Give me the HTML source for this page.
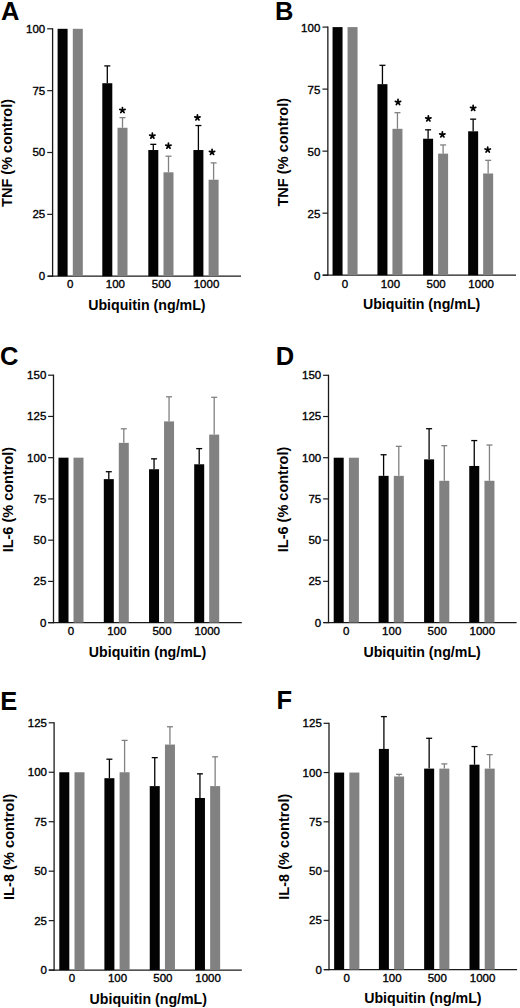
<!DOCTYPE html>
<html><head><meta charset="utf-8"><style>
html,body{margin:0;padding:0;background:#fff;}
svg{display:block;}
text{font-family:"Liberation Sans", sans-serif;fill:#000;}
.tk{stroke:#000;stroke-width:0.35px;}
</style></head><body>
<svg width="520" height="1008" viewBox="0 0 520 1008">
<rect width="520" height="1008" fill="#fff"/>
<text x="1.0" y="19.9" font-size="25.5" font-weight="bold">A</text>
<line x1="52.6" y1="28.20" x2="52.6" y2="276.80" stroke="#1a1a1a" stroke-width="1.3"/>
<line x1="48" y1="276.2" x2="241" y2="276.2" stroke="#1a1a1a" stroke-width="1.3"/>
<line x1="47.20" y1="276.20" x2="52.6" y2="276.20" stroke="#1a1a1a" stroke-width="1.2"/>
<text x="45.2" y="280.17" font-size="11.5" text-anchor="end" class="tk">0</text>
<line x1="47.20" y1="214.35" x2="52.6" y2="214.35" stroke="#1a1a1a" stroke-width="1.2"/>
<text x="45.2" y="218.32" font-size="11.5" text-anchor="end" class="tk">25</text>
<line x1="47.20" y1="152.50" x2="52.6" y2="152.50" stroke="#1a1a1a" stroke-width="1.2"/>
<text x="45.2" y="156.47" font-size="11.5" text-anchor="end" class="tk">50</text>
<line x1="47.20" y1="90.65" x2="52.6" y2="90.65" stroke="#1a1a1a" stroke-width="1.2"/>
<text x="45.2" y="94.62" font-size="11.5" text-anchor="end" class="tk">75</text>
<line x1="47.20" y1="28.80" x2="52.6" y2="28.80" stroke="#1a1a1a" stroke-width="1.2"/>
<text x="45.2" y="32.77" font-size="11.5" text-anchor="end" class="tk">100</text>
<rect x="57.60" y="28.80" width="10" height="247.40" fill="#030303"/>
<rect x="72.80" y="28.80" width="10" height="247.40" fill="#818181"/>
<text x="70.20" y="288.2" font-size="11.5" text-anchor="middle" class="tk">0</text>
<rect x="102.30" y="83.23" width="10" height="192.97" fill="#030303"/>
<line x1="107.30" y1="65.91" x2="107.30" y2="83.23" stroke="#030303" stroke-width="1.3"/>
<line x1="104.30" y1="65.91" x2="110.30" y2="65.91" stroke="#030303" stroke-width="1.3"/>
<rect x="117.50" y="127.76" width="10" height="148.44" fill="#818181"/>
<line x1="122.50" y1="117.62" x2="122.50" y2="127.76" stroke="#818181" stroke-width="1.3"/>
<line x1="119.50" y1="117.62" x2="125.50" y2="117.62" stroke="#818181" stroke-width="1.3"/>
<path d="M122.45,110.26L122.45,107.51M122.45,110.26L125.07,109.41M122.45,110.26L124.07,112.49M122.45,110.26L120.83,112.49M122.45,110.26L119.83,109.41" stroke="#000" stroke-width="1.75" stroke-linecap="round" fill="none"/>
<text x="115.40" y="288.2" font-size="11.5" text-anchor="middle" class="tk">100</text>
<rect x="148.30" y="150.03" width="10" height="126.17" fill="#030303"/>
<line x1="153.30" y1="144.34" x2="153.30" y2="150.03" stroke="#030303" stroke-width="1.3"/>
<line x1="150.30" y1="144.34" x2="156.30" y2="144.34" stroke="#030303" stroke-width="1.3"/>
<path d="M152.35,135.91L152.35,133.16M152.35,135.91L154.97,135.06M152.35,135.91L153.97,138.14M152.35,135.91L150.73,138.14M152.35,135.91L149.73,135.06" stroke="#000" stroke-width="1.75" stroke-linecap="round" fill="none"/>
<rect x="163.50" y="172.29" width="10" height="103.91" fill="#818181"/>
<line x1="168.50" y1="156.21" x2="168.50" y2="172.29" stroke="#818181" stroke-width="1.3"/>
<line x1="165.50" y1="156.21" x2="171.50" y2="156.21" stroke="#818181" stroke-width="1.3"/>
<path d="M168.43,145.96L168.43,143.21M168.43,145.96L171.05,145.11M168.43,145.96L170.05,148.19M168.43,145.96L166.81,148.19M168.43,145.96L165.81,145.11" stroke="#000" stroke-width="1.75" stroke-linecap="round" fill="none"/>
<text x="161.40" y="288.2" font-size="11.5" text-anchor="middle" class="tk">500</text>
<rect x="193.40" y="150.03" width="10" height="126.17" fill="#030303"/>
<line x1="198.40" y1="125.53" x2="198.40" y2="150.03" stroke="#030303" stroke-width="1.3"/>
<line x1="195.40" y1="125.53" x2="201.40" y2="125.53" stroke="#030303" stroke-width="1.3"/>
<path d="M197.43,117.66L197.43,114.91M197.43,117.66L200.05,116.81M197.43,117.66L199.05,119.89M197.43,117.66L195.81,119.89M197.43,117.66L194.81,116.81" stroke="#000" stroke-width="1.75" stroke-linecap="round" fill="none"/>
<rect x="208.60" y="179.71" width="10" height="96.49" fill="#818181"/>
<line x1="213.60" y1="162.89" x2="213.60" y2="179.71" stroke="#818181" stroke-width="1.3"/>
<line x1="210.60" y1="162.89" x2="216.60" y2="162.89" stroke="#818181" stroke-width="1.3"/>
<path d="M212.05,152.16L212.05,149.41M212.05,152.16L214.67,151.31M212.05,152.16L213.67,154.39M212.05,152.16L210.43,154.39M212.05,152.16L209.43,151.31" stroke="#000" stroke-width="1.75" stroke-linecap="round" fill="none"/>
<text x="206.50" y="288.2" font-size="11.5" text-anchor="middle" class="tk">1000</text>
<text x="88.2" y="309.75" font-size="14.2" font-weight="bold">Ubiquitin (ng/mL)</text>
<text transform="translate(12.1,152.93) rotate(-90)" x="0" y="0" font-size="14.5" font-weight="bold" text-anchor="middle">TNF (% control)</text>
<text x="274.9" y="19.7" font-size="25.5" font-weight="bold">B</text>
<line x1="327.85" y1="26.50" x2="327.85" y2="275.80" stroke="#1a1a1a" stroke-width="1.3"/>
<line x1="322.8" y1="275.2" x2="516" y2="275.2" stroke="#1a1a1a" stroke-width="1.3"/>
<line x1="322.45" y1="275.20" x2="327.85" y2="275.20" stroke="#1a1a1a" stroke-width="1.2"/>
<text x="320.3" y="279.67" font-size="11.5" text-anchor="end" class="tk">0</text>
<line x1="322.45" y1="213.17" x2="327.85" y2="213.17" stroke="#1a1a1a" stroke-width="1.2"/>
<text x="320.3" y="217.64" font-size="11.5" text-anchor="end" class="tk">25</text>
<line x1="322.45" y1="151.15" x2="327.85" y2="151.15" stroke="#1a1a1a" stroke-width="1.2"/>
<text x="320.3" y="155.62" font-size="11.5" text-anchor="end" class="tk">50</text>
<line x1="322.45" y1="89.12" x2="327.85" y2="89.12" stroke="#1a1a1a" stroke-width="1.2"/>
<text x="320.3" y="93.59" font-size="11.5" text-anchor="end" class="tk">75</text>
<line x1="322.45" y1="27.10" x2="327.85" y2="27.10" stroke="#1a1a1a" stroke-width="1.2"/>
<text x="320.3" y="31.57" font-size="11.5" text-anchor="end" class="tk">100</text>
<rect x="332.55" y="27.10" width="10" height="248.10" fill="#030303"/>
<rect x="347.55" y="27.10" width="10" height="248.10" fill="#818181"/>
<text x="345.05" y="288.0" font-size="11.5" text-anchor="middle" class="tk">0</text>
<rect x="377.45" y="84.16" width="10" height="191.04" fill="#030303"/>
<line x1="382.45" y1="65.31" x2="382.45" y2="84.16" stroke="#030303" stroke-width="1.3"/>
<line x1="379.45" y1="65.31" x2="385.45" y2="65.31" stroke="#030303" stroke-width="1.3"/>
<rect x="392.45" y="128.82" width="10" height="146.38" fill="#818181"/>
<line x1="397.45" y1="112.69" x2="397.45" y2="128.82" stroke="#818181" stroke-width="1.3"/>
<line x1="394.45" y1="112.69" x2="400.45" y2="112.69" stroke="#818181" stroke-width="1.3"/>
<path d="M398.00,102.23L398.00,99.48M398.00,102.23L400.62,101.38M398.00,102.23L399.62,104.46M398.00,102.23L396.38,104.46M398.00,102.23L395.38,101.38" stroke="#000" stroke-width="1.75" stroke-linecap="round" fill="none"/>
<text x="390.45" y="288.0" font-size="11.5" text-anchor="middle" class="tk">100</text>
<rect x="423.10" y="138.74" width="10" height="136.46" fill="#030303"/>
<line x1="428.10" y1="129.81" x2="428.10" y2="138.74" stroke="#030303" stroke-width="1.3"/>
<line x1="425.10" y1="129.81" x2="431.10" y2="129.81" stroke="#030303" stroke-width="1.3"/>
<path d="M428.35,118.66L428.35,115.91M428.35,118.66L430.97,117.81M428.35,118.66L429.97,120.89M428.35,118.66L426.73,120.89M428.35,118.66L425.73,117.81" stroke="#000" stroke-width="1.75" stroke-linecap="round" fill="none"/>
<rect x="438.10" y="153.63" width="10" height="121.57" fill="#818181"/>
<line x1="443.10" y1="144.95" x2="443.10" y2="153.63" stroke="#818181" stroke-width="1.3"/>
<line x1="440.10" y1="144.95" x2="446.10" y2="144.95" stroke="#818181" stroke-width="1.3"/>
<path d="M442.35,134.66L442.35,131.91M442.35,134.66L444.97,133.81M442.35,134.66L443.97,136.89M442.35,134.66L440.73,136.89M442.35,134.66L439.73,133.81" stroke="#000" stroke-width="1.75" stroke-linecap="round" fill="none"/>
<text x="436.10" y="288.0" font-size="11.5" text-anchor="middle" class="tk">500</text>
<rect x="468.15" y="131.30" width="10" height="143.90" fill="#030303"/>
<line x1="473.15" y1="119.15" x2="473.15" y2="131.30" stroke="#030303" stroke-width="1.3"/>
<line x1="470.15" y1="119.15" x2="476.15" y2="119.15" stroke="#030303" stroke-width="1.3"/>
<path d="M473.15,108.16L473.15,105.41M473.15,108.16L475.77,107.31M473.15,108.16L474.77,110.39M473.15,108.16L471.53,110.39M473.15,108.16L470.53,107.31" stroke="#000" stroke-width="1.75" stroke-linecap="round" fill="none"/>
<rect x="483.15" y="173.48" width="10" height="101.72" fill="#818181"/>
<line x1="488.15" y1="160.33" x2="488.15" y2="173.48" stroke="#818181" stroke-width="1.3"/>
<line x1="485.15" y1="160.33" x2="491.15" y2="160.33" stroke="#818181" stroke-width="1.3"/>
<path d="M487.70,149.86L487.70,147.11M487.70,149.86L490.32,149.01M487.70,149.86L489.32,152.09M487.70,149.86L486.08,152.09M487.70,149.86L485.08,149.01" stroke="#000" stroke-width="1.75" stroke-linecap="round" fill="none"/>
<text x="481.15" y="288.0" font-size="11.5" text-anchor="middle" class="tk">1000</text>
<text x="362.9" y="308.9" font-size="14.2" font-weight="bold">Ubiquitin (ng/mL)</text>
<text transform="translate(287.85,152.23) rotate(-90)" x="0" y="0" font-size="14.5" font-weight="bold" text-anchor="middle" textLength="108.7" lengthAdjust="spacing">TNF (% control)</text>
<text x="-0.05" y="365.4" font-size="25.5" font-weight="bold">C</text>
<line x1="53.5" y1="374.60" x2="53.5" y2="623.25" stroke="#1a1a1a" stroke-width="1.3"/>
<line x1="48.2" y1="622.65" x2="241.8" y2="622.65" stroke="#1a1a1a" stroke-width="1.3"/>
<line x1="48.10" y1="622.65" x2="53.5" y2="622.65" stroke="#1a1a1a" stroke-width="1.2"/>
<text x="46.3" y="626.62" font-size="11.5" text-anchor="end" class="tk">0</text>
<line x1="48.10" y1="581.41" x2="53.5" y2="581.41" stroke="#1a1a1a" stroke-width="1.2"/>
<text x="46.3" y="585.38" font-size="11.5" text-anchor="end" class="tk">25</text>
<line x1="48.10" y1="540.17" x2="53.5" y2="540.17" stroke="#1a1a1a" stroke-width="1.2"/>
<text x="46.3" y="544.13" font-size="11.5" text-anchor="end" class="tk">50</text>
<line x1="48.10" y1="498.92" x2="53.5" y2="498.92" stroke="#1a1a1a" stroke-width="1.2"/>
<text x="46.3" y="502.89" font-size="11.5" text-anchor="end" class="tk">75</text>
<line x1="48.10" y1="457.68" x2="53.5" y2="457.68" stroke="#1a1a1a" stroke-width="1.2"/>
<text x="46.3" y="461.65" font-size="11.5" text-anchor="end" class="tk">100</text>
<line x1="48.10" y1="416.44" x2="53.5" y2="416.44" stroke="#1a1a1a" stroke-width="1.2"/>
<text x="46.3" y="420.41" font-size="11.5" text-anchor="end" class="tk">125</text>
<line x1="48.10" y1="375.20" x2="53.5" y2="375.20" stroke="#1a1a1a" stroke-width="1.2"/>
<text x="46.3" y="379.17" font-size="11.5" text-anchor="end" class="tk">150</text>
<rect x="58.50" y="457.68" width="10" height="164.97" fill="#030303"/>
<rect x="73.50" y="457.68" width="10" height="164.97" fill="#818181"/>
<text x="71.00" y="635.0" font-size="11.5" text-anchor="middle" class="tk">0</text>
<rect x="103.80" y="479.13" width="10" height="143.52" fill="#030303"/>
<line x1="108.80" y1="471.71" x2="108.80" y2="479.13" stroke="#030303" stroke-width="1.3"/>
<line x1="105.80" y1="471.71" x2="111.80" y2="471.71" stroke="#030303" stroke-width="1.3"/>
<rect x="118.80" y="442.84" width="10" height="179.81" fill="#818181"/>
<line x1="123.80" y1="428.81" x2="123.80" y2="442.84" stroke="#818181" stroke-width="1.3"/>
<line x1="120.80" y1="428.81" x2="126.80" y2="428.81" stroke="#818181" stroke-width="1.3"/>
<text x="116.80" y="635.0" font-size="11.5" text-anchor="middle" class="tk">100</text>
<rect x="149.05" y="469.23" width="10" height="153.42" fill="#030303"/>
<line x1="154.05" y1="458.84" x2="154.05" y2="469.23" stroke="#030303" stroke-width="1.3"/>
<line x1="151.05" y1="458.84" x2="157.05" y2="458.84" stroke="#030303" stroke-width="1.3"/>
<rect x="164.05" y="421.39" width="10" height="201.26" fill="#818181"/>
<line x1="169.05" y1="396.81" x2="169.05" y2="421.39" stroke="#818181" stroke-width="1.3"/>
<line x1="166.05" y1="396.81" x2="172.05" y2="396.81" stroke="#818181" stroke-width="1.3"/>
<text x="162.05" y="635.0" font-size="11.5" text-anchor="middle" class="tk">500</text>
<rect x="194.20" y="464.28" width="10" height="158.37" fill="#030303"/>
<line x1="199.20" y1="448.61" x2="199.20" y2="464.28" stroke="#030303" stroke-width="1.3"/>
<line x1="196.20" y1="448.61" x2="202.20" y2="448.61" stroke="#030303" stroke-width="1.3"/>
<rect x="209.20" y="434.59" width="10" height="188.06" fill="#818181"/>
<line x1="214.20" y1="397.31" x2="214.20" y2="434.59" stroke="#818181" stroke-width="1.3"/>
<line x1="211.20" y1="397.31" x2="217.20" y2="397.31" stroke="#818181" stroke-width="1.3"/>
<text x="207.20" y="635.0" font-size="11.5" text-anchor="middle" class="tk">1000</text>
<text x="88.8" y="656.55" font-size="14.2" font-weight="bold">Ubiquitin (ng/mL)</text>
<text transform="translate(13.2,499.6) rotate(-90)" x="0" y="0" font-size="14.5" font-weight="bold" text-anchor="middle">IL-6 (% control)</text>
<text x="275.65" y="365.1" font-size="25.5" font-weight="bold">D</text>
<line x1="328.5" y1="374.70" x2="328.5" y2="623.15" stroke="#1a1a1a" stroke-width="1.3"/>
<line x1="323.6" y1="622.55" x2="516.6" y2="622.55" stroke="#1a1a1a" stroke-width="1.3"/>
<line x1="323.10" y1="622.55" x2="328.5" y2="622.55" stroke="#1a1a1a" stroke-width="1.2"/>
<text x="321.2" y="626.52" font-size="11.5" text-anchor="end" class="tk">0</text>
<line x1="323.10" y1="581.34" x2="328.5" y2="581.34" stroke="#1a1a1a" stroke-width="1.2"/>
<text x="321.2" y="585.31" font-size="11.5" text-anchor="end" class="tk">25</text>
<line x1="323.10" y1="540.13" x2="328.5" y2="540.13" stroke="#1a1a1a" stroke-width="1.2"/>
<text x="321.2" y="544.10" font-size="11.5" text-anchor="end" class="tk">50</text>
<line x1="323.10" y1="498.92" x2="328.5" y2="498.92" stroke="#1a1a1a" stroke-width="1.2"/>
<text x="321.2" y="502.89" font-size="11.5" text-anchor="end" class="tk">75</text>
<line x1="323.10" y1="457.72" x2="328.5" y2="457.72" stroke="#1a1a1a" stroke-width="1.2"/>
<text x="321.2" y="461.68" font-size="11.5" text-anchor="end" class="tk">100</text>
<line x1="323.10" y1="416.51" x2="328.5" y2="416.51" stroke="#1a1a1a" stroke-width="1.2"/>
<text x="321.2" y="420.48" font-size="11.5" text-anchor="end" class="tk">125</text>
<line x1="323.10" y1="375.30" x2="328.5" y2="375.30" stroke="#1a1a1a" stroke-width="1.2"/>
<text x="321.2" y="379.27" font-size="11.5" text-anchor="end" class="tk">150</text>
<rect x="333.70" y="457.72" width="10" height="164.83" fill="#030303"/>
<rect x="348.90" y="457.72" width="10" height="164.83" fill="#818181"/>
<text x="346.30" y="635.0" font-size="11.5" text-anchor="middle" class="tk">0</text>
<rect x="378.60" y="475.85" width="10" height="146.70" fill="#030303"/>
<line x1="383.60" y1="454.75" x2="383.60" y2="475.85" stroke="#030303" stroke-width="1.3"/>
<line x1="380.60" y1="454.75" x2="386.60" y2="454.75" stroke="#030303" stroke-width="1.3"/>
<rect x="393.80" y="475.85" width="10" height="146.70" fill="#818181"/>
<line x1="398.80" y1="446.34" x2="398.80" y2="475.85" stroke="#818181" stroke-width="1.3"/>
<line x1="395.80" y1="446.34" x2="401.80" y2="446.34" stroke="#818181" stroke-width="1.3"/>
<text x="391.70" y="635.0" font-size="11.5" text-anchor="middle" class="tk">100</text>
<rect x="424.10" y="459.37" width="10" height="163.18" fill="#030303"/>
<line x1="429.10" y1="428.71" x2="429.10" y2="459.37" stroke="#030303" stroke-width="1.3"/>
<line x1="426.10" y1="428.71" x2="432.10" y2="428.71" stroke="#030303" stroke-width="1.3"/>
<rect x="439.30" y="480.79" width="10" height="141.76" fill="#818181"/>
<line x1="444.30" y1="445.68" x2="444.30" y2="480.79" stroke="#818181" stroke-width="1.3"/>
<line x1="441.30" y1="445.68" x2="447.30" y2="445.68" stroke="#818181" stroke-width="1.3"/>
<text x="437.20" y="635.0" font-size="11.5" text-anchor="middle" class="tk">500</text>
<rect x="469.25" y="465.96" width="10" height="156.59" fill="#030303"/>
<line x1="474.25" y1="440.57" x2="474.25" y2="465.96" stroke="#030303" stroke-width="1.3"/>
<line x1="471.25" y1="440.57" x2="477.25" y2="440.57" stroke="#030303" stroke-width="1.3"/>
<rect x="484.45" y="480.79" width="10" height="141.76" fill="#818181"/>
<line x1="489.45" y1="445.02" x2="489.45" y2="480.79" stroke="#818181" stroke-width="1.3"/>
<line x1="486.45" y1="445.02" x2="492.45" y2="445.02" stroke="#818181" stroke-width="1.3"/>
<text x="482.35" y="635.0" font-size="11.5" text-anchor="middle" class="tk">1000</text>
<text x="363.4" y="656.55" font-size="14.2" font-weight="bold">Ubiquitin (ng/mL)</text>
<text transform="translate(288.15,499.45) rotate(-90)" x="0" y="0" font-size="14.5" font-weight="bold" text-anchor="middle">IL-6 (% control)</text>
<text x="0.15" y="709.7" font-size="25.5" font-weight="bold">E</text>
<line x1="54.1" y1="722.20" x2="54.1" y2="970.70" stroke="#1a1a1a" stroke-width="1.3"/>
<line x1="48.8" y1="970.1" x2="241.8" y2="970.1" stroke="#1a1a1a" stroke-width="1.3"/>
<line x1="48.70" y1="970.10" x2="54.1" y2="970.10" stroke="#1a1a1a" stroke-width="1.2"/>
<text x="47.0" y="974.07" font-size="11.5" text-anchor="end" class="tk">0</text>
<line x1="48.70" y1="920.64" x2="54.1" y2="920.64" stroke="#1a1a1a" stroke-width="1.2"/>
<text x="47.0" y="924.61" font-size="11.5" text-anchor="end" class="tk">25</text>
<line x1="48.70" y1="871.18" x2="54.1" y2="871.18" stroke="#1a1a1a" stroke-width="1.2"/>
<text x="47.0" y="875.15" font-size="11.5" text-anchor="end" class="tk">50</text>
<line x1="48.70" y1="821.72" x2="54.1" y2="821.72" stroke="#1a1a1a" stroke-width="1.2"/>
<text x="47.0" y="825.69" font-size="11.5" text-anchor="end" class="tk">75</text>
<line x1="48.70" y1="772.26" x2="54.1" y2="772.26" stroke="#1a1a1a" stroke-width="1.2"/>
<text x="47.0" y="776.23" font-size="11.5" text-anchor="end" class="tk">100</text>
<line x1="48.70" y1="722.80" x2="54.1" y2="722.80" stroke="#1a1a1a" stroke-width="1.2"/>
<text x="47.0" y="726.77" font-size="11.5" text-anchor="end" class="tk">125</text>
<rect x="59.30" y="772.26" width="10" height="197.84" fill="#030303"/>
<rect x="74.50" y="772.26" width="10" height="197.84" fill="#818181"/>
<text x="71.90" y="982.2" font-size="11.5" text-anchor="middle" class="tk">0</text>
<rect x="104.40" y="778.20" width="10" height="191.90" fill="#030303"/>
<line x1="109.40" y1="759.20" x2="109.40" y2="778.20" stroke="#030303" stroke-width="1.3"/>
<line x1="106.40" y1="759.20" x2="112.40" y2="759.20" stroke="#030303" stroke-width="1.3"/>
<rect x="119.60" y="772.26" width="10" height="197.84" fill="#818181"/>
<line x1="124.60" y1="740.41" x2="124.60" y2="772.26" stroke="#818181" stroke-width="1.3"/>
<line x1="121.60" y1="740.41" x2="127.60" y2="740.41" stroke="#818181" stroke-width="1.3"/>
<text x="117.50" y="982.2" font-size="11.5" text-anchor="middle" class="tk">100</text>
<rect x="149.75" y="786.11" width="10" height="183.99" fill="#030303"/>
<line x1="154.75" y1="757.62" x2="154.75" y2="786.11" stroke="#030303" stroke-width="1.3"/>
<line x1="151.75" y1="757.62" x2="157.75" y2="757.62" stroke="#030303" stroke-width="1.3"/>
<rect x="164.95" y="744.56" width="10" height="225.54" fill="#818181"/>
<line x1="169.95" y1="726.76" x2="169.95" y2="744.56" stroke="#818181" stroke-width="1.3"/>
<line x1="166.95" y1="726.76" x2="172.95" y2="726.76" stroke="#818181" stroke-width="1.3"/>
<text x="162.85" y="982.2" font-size="11.5" text-anchor="middle" class="tk">500</text>
<rect x="194.95" y="797.98" width="10" height="172.12" fill="#030303"/>
<line x1="199.95" y1="773.84" x2="199.95" y2="797.98" stroke="#030303" stroke-width="1.3"/>
<line x1="196.95" y1="773.84" x2="202.95" y2="773.84" stroke="#030303" stroke-width="1.3"/>
<rect x="210.15" y="786.11" width="10" height="183.99" fill="#818181"/>
<line x1="215.15" y1="756.83" x2="215.15" y2="786.11" stroke="#818181" stroke-width="1.3"/>
<line x1="212.15" y1="756.83" x2="218.15" y2="756.83" stroke="#818181" stroke-width="1.3"/>
<text x="208.05" y="982.2" font-size="11.5" text-anchor="middle" class="tk">1000</text>
<text x="89.6" y="1003.8" font-size="14.2" font-weight="bold">Ubiquitin (ng/mL)</text>
<text transform="translate(13.7,846.8) rotate(-90)" x="0" y="0" font-size="14.5" font-weight="bold" text-anchor="middle" textLength="106.4" lengthAdjust="spacing">IL-8 (% control)</text>
<text x="276.45" y="709.1" font-size="25.5" font-weight="bold">F</text>
<line x1="329.0" y1="722.70" x2="329.0" y2="970.20" stroke="#1a1a1a" stroke-width="1.3"/>
<line x1="324" y1="969.6" x2="517.1" y2="969.6" stroke="#1a1a1a" stroke-width="1.3"/>
<line x1="323.60" y1="969.60" x2="329.0" y2="969.60" stroke="#1a1a1a" stroke-width="1.2"/>
<text x="321.8" y="973.57" font-size="11.5" text-anchor="end" class="tk">0</text>
<line x1="323.60" y1="920.34" x2="329.0" y2="920.34" stroke="#1a1a1a" stroke-width="1.2"/>
<text x="321.8" y="924.31" font-size="11.5" text-anchor="end" class="tk">25</text>
<line x1="323.60" y1="871.08" x2="329.0" y2="871.08" stroke="#1a1a1a" stroke-width="1.2"/>
<text x="321.8" y="875.05" font-size="11.5" text-anchor="end" class="tk">50</text>
<line x1="323.60" y1="821.82" x2="329.0" y2="821.82" stroke="#1a1a1a" stroke-width="1.2"/>
<text x="321.8" y="825.79" font-size="11.5" text-anchor="end" class="tk">75</text>
<line x1="323.60" y1="772.56" x2="329.0" y2="772.56" stroke="#1a1a1a" stroke-width="1.2"/>
<text x="321.8" y="776.53" font-size="11.5" text-anchor="end" class="tk">100</text>
<line x1="323.60" y1="723.30" x2="329.0" y2="723.30" stroke="#1a1a1a" stroke-width="1.2"/>
<text x="321.8" y="727.27" font-size="11.5" text-anchor="end" class="tk">125</text>
<rect x="334.15" y="772.56" width="10" height="197.04" fill="#030303"/>
<rect x="349.35" y="772.56" width="10" height="197.04" fill="#818181"/>
<text x="346.75" y="981.7" font-size="11.5" text-anchor="middle" class="tk">0</text>
<rect x="378.90" y="748.92" width="10" height="220.68" fill="#030303"/>
<line x1="383.90" y1="716.60" x2="383.90" y2="748.92" stroke="#030303" stroke-width="1.3"/>
<line x1="380.90" y1="716.60" x2="386.90" y2="716.60" stroke="#030303" stroke-width="1.3"/>
<rect x="394.10" y="776.50" width="10" height="193.10" fill="#818181"/>
<line x1="399.10" y1="774.33" x2="399.10" y2="776.50" stroke="#818181" stroke-width="1.3"/>
<line x1="396.10" y1="774.33" x2="402.10" y2="774.33" stroke="#818181" stroke-width="1.3"/>
<text x="392.00" y="981.7" font-size="11.5" text-anchor="middle" class="tk">100</text>
<rect x="424.15" y="768.62" width="10" height="200.98" fill="#030303"/>
<line x1="429.15" y1="738.28" x2="429.15" y2="768.62" stroke="#030303" stroke-width="1.3"/>
<line x1="426.15" y1="738.28" x2="432.15" y2="738.28" stroke="#030303" stroke-width="1.3"/>
<rect x="439.35" y="768.62" width="10" height="200.98" fill="#818181"/>
<line x1="444.35" y1="763.89" x2="444.35" y2="768.62" stroke="#818181" stroke-width="1.3"/>
<line x1="441.35" y1="763.89" x2="447.35" y2="763.89" stroke="#818181" stroke-width="1.3"/>
<text x="437.25" y="981.7" font-size="11.5" text-anchor="middle" class="tk">500</text>
<rect x="469.50" y="764.68" width="10" height="204.92" fill="#030303"/>
<line x1="474.50" y1="746.55" x2="474.50" y2="764.68" stroke="#030303" stroke-width="1.3"/>
<line x1="471.50" y1="746.55" x2="477.50" y2="746.55" stroke="#030303" stroke-width="1.3"/>
<rect x="484.70" y="768.62" width="10" height="200.98" fill="#818181"/>
<line x1="489.70" y1="754.63" x2="489.70" y2="768.62" stroke="#818181" stroke-width="1.3"/>
<line x1="486.70" y1="754.63" x2="492.70" y2="754.63" stroke="#818181" stroke-width="1.3"/>
<text x="482.60" y="981.7" font-size="11.5" text-anchor="middle" class="tk">1000</text>
<text x="364.2" y="1003.15" font-size="14.2" font-weight="bold">Ubiquitin (ng/mL)</text>
<text transform="translate(289.35,846.73) rotate(-90)" x="0" y="0" font-size="14.5" font-weight="bold" text-anchor="middle" textLength="106.2" lengthAdjust="spacing">IL-8 (% control)</text>
</svg>
</body></html>
